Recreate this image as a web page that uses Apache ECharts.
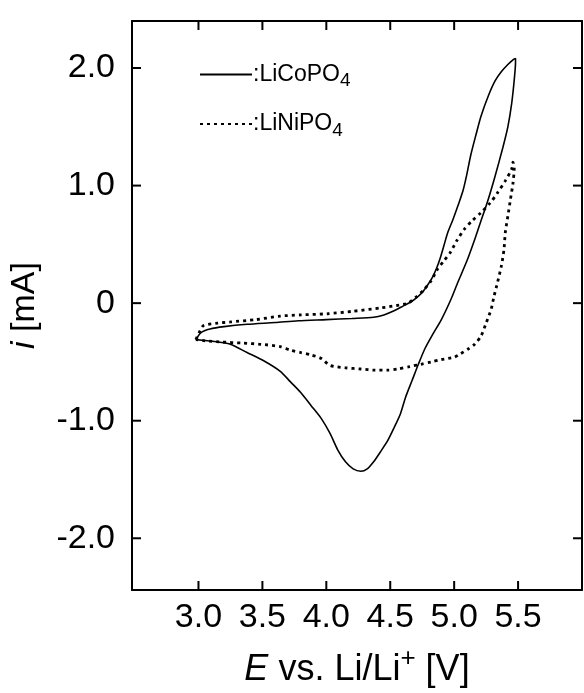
<!DOCTYPE html>
<html>
<head>
<meta charset="utf-8">
<script src="https://cdn.jsdelivr.net/npm/echarts@6/dist/echarts.min.js"></script>
<style>html,body{margin:0;padding:0;background:#fff;}#c{width:584px;height:693px;}</style>
</head>
<body>
<div id="c"></div>
<script>
// ---- data ----
const xTicks = [3.0, 3.5, 4.0, 4.5, 5.0, 5.5];
const yTicks = [-2, -1, 0, 1, 2];

// LiCoPO4 (solid): E [V], i [mA]
const coE = [2.98, 3.02, 3.09, 3.2, 3.38, 3.6, 3.78, 4.0, 4.2, 4.37, 4.45, 4.53, 4.60, 4.66, 4.71, 4.75, 4.79, 4.83, 4.86, 4.89, 4.92, 4.95, 4.99, 5.03, 5.07, 5.10, 5.13, 5.17, 5.21, 5.27, 5.32, 5.37, 5.42, 5.46, 5.48,
  5.48, 5.47, 5.45, 5.42, 5.38, 5.32, 5.26, 5.21, 5.16, 5.10, 5.03, 4.97, 4.90, 4.83, 4.77, 4.72, 4.67, 4.62, 4.58, 4.53, 4.48, 4.42, 4.37, 4.32, 4.27, 4.21, 4.15, 4.09, 4.03, 3.96, 3.88, 3.80, 3.72, 3.64, 3.51, 3.38, 3.25, 3.15, 3.07, 2.98];
const coI = [-0.31, -0.25, -0.22, -0.20, -0.18, -0.165, -0.15, -0.14, -0.13, -0.12, -0.10, -0.065, -0.025, 0.01, 0.05, 0.09, 0.15, 0.22, 0.29, 0.38, 0.49, 0.60, 0.71, 0.83, 0.96, 1.10, 1.26, 1.43, 1.59, 1.77, 1.89, 1.97, 2.03, 2.07, 2.08,
  2.05, 1.90, 1.70, 1.50, 1.32, 1.08, 0.86, 0.70, 0.54, 0.36, 0.18, 0.02, -0.14, -0.27, -0.39, -0.52, -0.66, -0.80, -0.94, -1.06, -1.17, -1.27, -1.35, -1.41, -1.43, -1.41, -1.35, -1.25, -1.11, -0.98, -0.87, -0.76, -0.67, -0.58, -0.49, -0.42, -0.35, -0.33, -0.32, -0.31];

// LiNiPO4 (dotted): E [V], i [mA]
const niE = [2.98, 3.01, 3.04, 3.15, 3.25, 3.45, 3.64, 3.8, 4.01, 4.2, 4.43, 4.55, 4.64, 4.70, 4.76, 4.82, 4.87, 4.92, 4.97, 5.02, 5.08, 5.14, 5.21, 5.28, 5.34, 5.40, 5.45, 5.46,
  5.47, 5.46, 5.44, 5.42, 5.40, 5.39, 5.37, 5.34, 5.31, 5.29, 5.25, 5.21, 5.16, 5.11, 5.05, 5.00, 4.90, 4.82, 4.74, 4.65, 4.56, 4.48, 4.38, 4.27, 4.15, 4.03, 3.96, 3.88, 3.80, 3.72, 3.64, 3.49, 3.35, 3.17, 3.05, 2.98];
const niI = [-0.31, -0.24, -0.19, -0.17, -0.16, -0.14, -0.11, -0.10, -0.09, -0.07, -0.04, -0.02, 0.0, 0.05, 0.11, 0.19, 0.29, 0.36, 0.43, 0.53, 0.63, 0.70, 0.77, 0.85, 0.94, 1.04, 1.14, 1.20,
  1.15, 1.02, 0.88, 0.74, 0.60, 0.46, 0.32, 0.18, 0.05, -0.05, -0.17, -0.28, -0.35, -0.39, -0.43, -0.46, -0.48, -0.50, -0.52, -0.54, -0.56, -0.57, -0.57, -0.56, -0.55, -0.53, -0.47, -0.44, -0.42, -0.40, -0.37, -0.35, -0.34, -0.33, -0.32, -0.31];

const seriesNames = ['LiCoPO4', 'LiNiPO4'];

// ---- chart ----
const zip = (a, b) => a.map((v, i) => [v, b[i]]);
const FONT = '"Liberation Sans", Arial, Helvetica, sans-serif';
const X_MIN = 2.48, X_MAX = 6.0, Y_MIN = -2.44, Y_MAX = 2.40;
const TICK_LEN = 9;

const chart = echarts.init(document.getElementById('c'), null, {renderer: 'canvas'});

const frameLine = {show: true, onZero: false, lineStyle: {color: '#000', width: 2}};
const tickLine = (x1, y1, x2, y2) => ({type: 'line', shape: {x1, y1, x2, y2}, style: {stroke: '#000', lineWidth: 2}});

chart.setOption({
  backgroundColor: '#fff',
  animation: false,
  textStyle: {fontFamily: FONT, color: '#000'},
  grid: {left: 131, right: 2, top: 21, bottom: 101, containLabel: false},
  legend: {
    orient: 'vertical', left: 194, top: 58, itemWidth: 52, itemHeight: 14, itemGap: 22,
    itemStyle: {opacity: 0, borderWidth: 0},
    textStyle: {fontFamily: FONT, fontSize: 23, color: '#000', padding: [0, 0, 0, -4],
      rich: {sub: {fontFamily: FONT, fontSize: 19, color: '#000', padding: [13, 0, 0, 0]}}},
    formatter: name => ':' + name.replace(/4$/, '') + '{sub|4}',
    data: seriesNames
  },
  xAxis: [{
    type: 'value', position: 'bottom', min: X_MIN, max: X_MAX,
    axisLine: frameLine, axisTick: {show: false}, splitLine: {show: false},
    axisLabel: {customValues: xTicks, formatter: v => v.toFixed(1), fontFamily: FONT, fontSize: 34, color: '#000', margin: 11},
    name: '{it|E} vs. Li/Li{sup|+} [V]', nameLocation: 'middle', nameGap: 56,
    nameTextStyle: {fontFamily: FONT, fontSize: 36, color: '#000',
      rich: {it: {fontFamily: FONT, fontSize: 36, fontStyle: 'italic', color: '#000'},
             sup: {fontFamily: FONT, fontSize: 26, color: '#000', padding: [0, 0, 22, 0]}}}
  }, {
    type: 'value', position: 'top', min: X_MIN, max: X_MAX,
    axisLine: frameLine, axisTick: {show: false}, splitLine: {show: false},
    axisLabel: {show: false}
  }],
  yAxis: [{
    type: 'value', position: 'left', min: Y_MIN, max: Y_MAX,
    axisLine: frameLine, axisTick: {show: false}, splitLine: {show: false},
    axisLabel: {customValues: yTicks, formatter: v => v === 0 ? '0' : v.toFixed(1), fontFamily: FONT, fontSize: 34, color: '#000', margin: 17},
    name: '{it|i} [mA]', nameLocation: 'middle', nameRotate: 90, nameGap: 90,
    nameTextStyle: {fontFamily: FONT, fontSize: 34, color: '#000',
      rich: {it: {fontFamily: FONT, fontSize: 34, fontStyle: 'italic', color: '#000'}}}
  }, {
    type: 'value', position: 'right', min: Y_MIN, max: Y_MAX,
    axisLine: frameLine, axisTick: {show: false}, splitLine: {show: false},
    axisLabel: {show: false}
  }],
  series: [{
    name: seriesNames[0], type: 'line', data: zip(coE, coI), symbol: 'none', smooth: 0.25,
    lineStyle: {color: '#000', width: 1.6, type: 'solid'}, itemStyle: {color: '#000'}
  }, {
    name: seriesNames[1], type: 'line', data: zip(niE, niI), symbol: 'none', smooth: 0.25,
    lineStyle: {color: '#000', width: 2.8, type: [3, 4]}, itemStyle: {color: '#000'}
  }, {
    // inward ticks on bottom and top frame at each x tick value
    name: 'xTickMarks', type: 'custom', clip: false, silent: true,
    data: xTicks.map(v => [v, Y_MIN]),
    renderItem: (params, api) => {
      const b = api.coord([api.value(0), Y_MIN]);
      const t = api.coord([api.value(0), Y_MAX]);
      return {type: 'group', children: [tickLine(b[0], b[1], b[0], b[1] - TICK_LEN), tickLine(t[0], t[1], t[0], t[1] + TICK_LEN)]};
    }
  }, {
    // inward ticks on left and right frame at each y tick value
    name: 'yTickMarks', type: 'custom', clip: false, silent: true,
    data: yTicks.map(v => [X_MIN, v]),
    renderItem: (params, api) => {
      const l = api.coord([X_MIN, api.value(1)]);
      const r = api.coord([X_MAX, api.value(1)]);
      return {type: 'group', children: [tickLine(l[0], l[1], l[0] + TICK_LEN, l[1]), tickLine(r[0], r[1], r[0] - TICK_LEN, r[1])]};
    }
  }]
});
</script>
</body>
</html>
